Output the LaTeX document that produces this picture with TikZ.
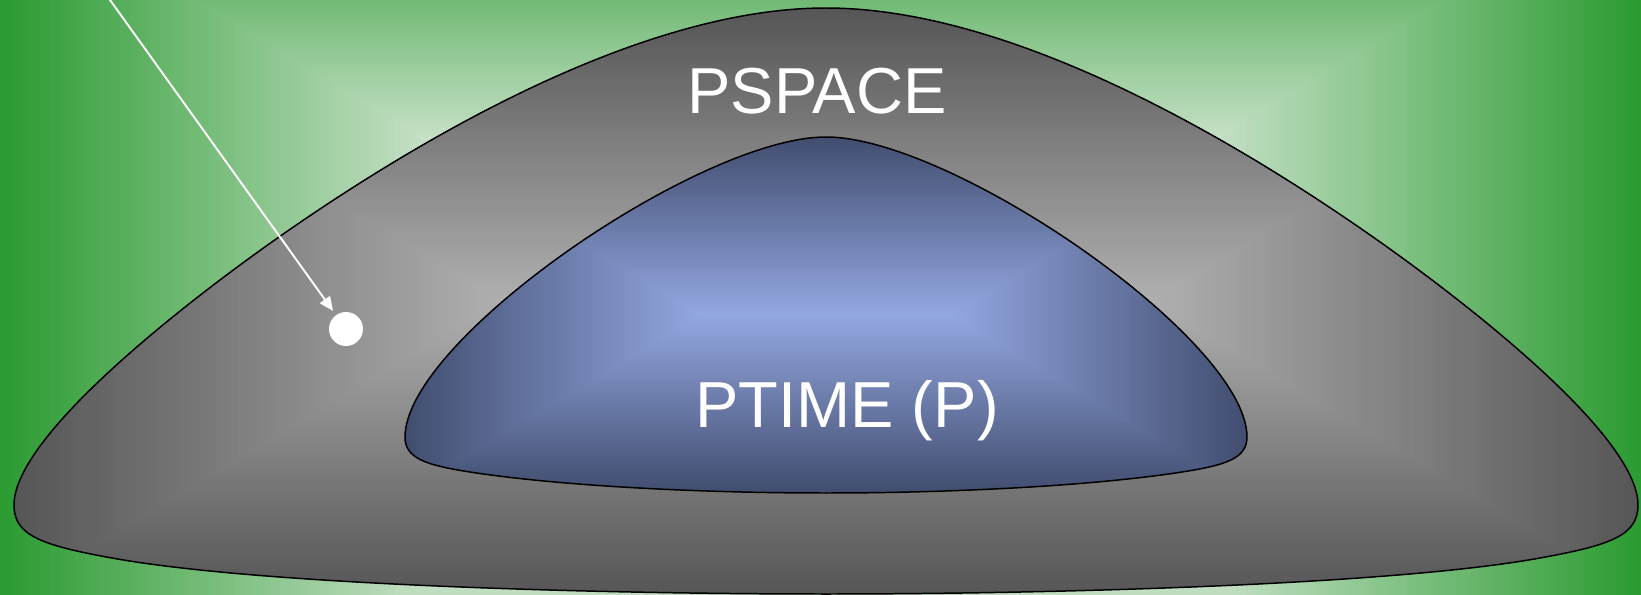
\documentclass[tikz,border=0pt]{standalone}
\usepackage{fontspec}
\setmainfont{Liberation Sans}
\usetikzlibrary{arrows.meta}
\definecolor{bgEdge}{RGB}{44,155,50}
\definecolor{bgCenter}{RGB}{215,232,215}
\definecolor{grEdge}{RGB}{86,86,86}
\definecolor{grCenter}{RGB}{176,176,176}
\definecolor{blEdge}{RGB}{66,78,112}
\definecolor{blCenter}{RGB}{148,168,226}
\def\outerpath{(826,8) .. controls (646,8) and (429,132) .. (279,237) .. controls (189,300) and (14,435) .. (14,505) .. controls (14,535) and (40,545) .. (112,558) .. controls (260,585) and (600,594) .. (826,594) .. controls (1052,594) and (1392,585) .. (1540,558) .. controls (1612,545) and (1638,535) .. (1638,505) .. controls (1638,435) and (1463,300) .. (1373,237) .. controls (1223,132) and (1006,8) .. (826,8) -- cycle}
\def\innerpath{(826,137) .. controls (700,137) and (405,340) .. (405,437) .. controls (405,458) and (425,465) .. (470,472) .. controls (560,486) and (700,493) .. (826,493) .. controls (952,493) and (1092,486) .. (1182,472) .. controls (1227,465) and (1247,458) .. (1247,437) .. controls (1247,340) and (952,137) .. (826,137) -- cycle}
\begin{document}
\begin{tikzpicture}[x=0.02cm,y=-0.02cm,
  outline/.style={draw=black,line width=0.85pt},
  txt/.style={text=white,font=\fontsize{37}{44}\selectfont,inner sep=0pt,anchor=base},
  pointer/.style={draw=white,line width=1.1pt,-{Triangle[length=8pt,width=7pt]},shorten >=2.8pt},
  dotnode/.style={circle,fill=white,minimum size=0.68cm,inner sep=0pt}]
\useasboundingbox (0,0) rectangle (1641,595);
\clip (0,0) rectangle (1641,595);
% background rectangular gradient
\foreach \i in {0,...,94} {
  \pgfmathsetmacro\dd{\i*5}
  \pgfmathtruncatemacro\pp{min(100,\dd/470*100)}
  \fill[bgCenter!\pp!bgEdge] (\dd,{-117+0.6*\dd}) rectangle ({1641-\dd},{835-0.6*\dd});
}
% PSPACE region
\begin{scope}
\clip \outerpath;
\foreach \i in {0,...,98} {
  \pgfmathsetmacro\dd{\i*5}
  \pgfmathtruncatemacro\pp{min(100,\dd/488*100)}
  \fill[grCenter!\pp!grEdge] ({13+\dd},{8+0.6*\dd}) rectangle ({1639-\dd},{594-0.6*\dd});
}
\end{scope}
% PTIME region
\begin{scope}
\clip \innerpath;
\foreach \i in {0,...,74} {
  \pgfmathsetmacro\dd{\i*4}
  \pgfmathtruncatemacro\pp{min(100,\dd/297*100)}
  \fill[blCenter!\pp!blEdge] ({405+\dd},{137+0.6*\dd}) rectangle ({1247-\dd},{493-0.6*\dd});
}
\end{scope}
\draw[outline] \outerpath;
\draw[outline] \innerpath;
\node[dotnode] (dot) at (346,329) {};
\coordinate (arrowstart) at (95.7,-20);
\draw[pointer] (arrowstart) -- (dot);
\node[txt] (pspace) at (817,113) {PSPACE};
\node[txt] (ptime) at (847,427) {PTIME (P)};
\end{tikzpicture}
\end{document}
